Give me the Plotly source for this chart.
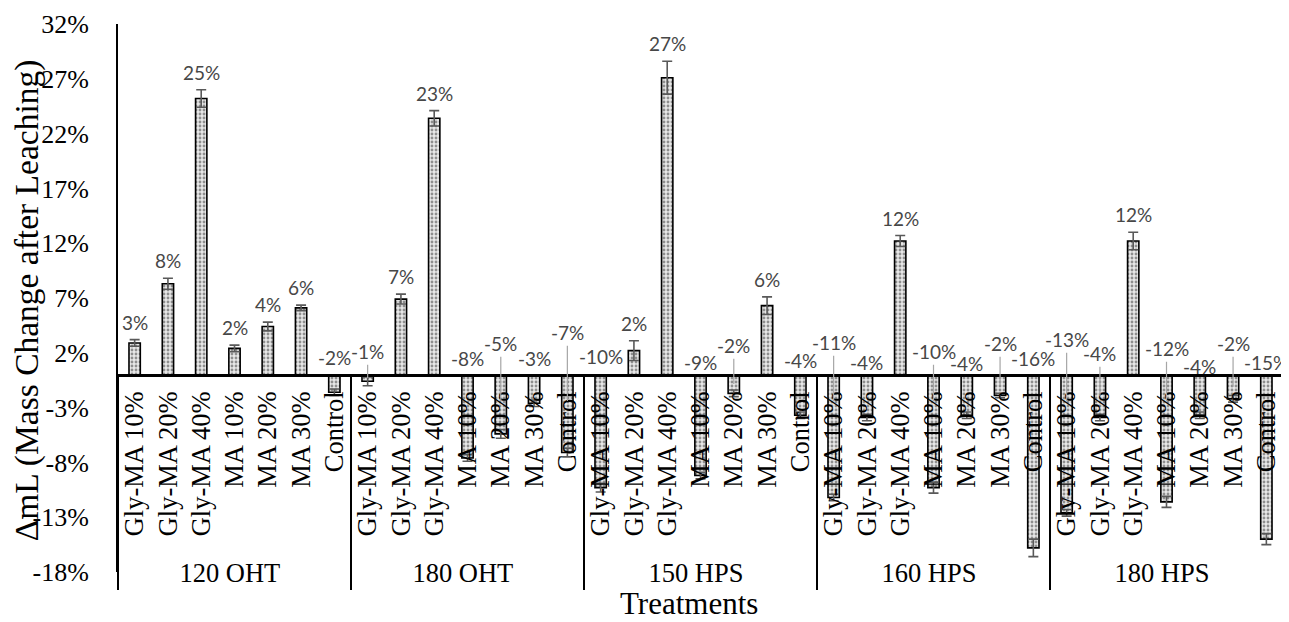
import plotly.graph_objects as go

# ---------------- data ----------------
GROUPS = ["120 OHT", "180 OHT", "150 HPS", "160 HPS", "180 HPS"]
CATEGORIES = ["Gly-MA 10%", "Gly-MA 20%", "Gly-MA 40%", "MA 10%", "MA 20%", "MA 30%", "Control"]

VAL_120_OHT = [2.9, 8.3, 25.2, 2.4, 4.4, 6.1, -1.6]
VAL_180_OHT = [-0.6, 6.9, 23.4, -7.6, -5.4, -2.6, -7.1]
VAL_150_HPS = [-10.3, 2.2, 27.1, -9.2, -1.7, 6.3, -3.7]
VAL_160_HPS = [-11.2, -3.9, 12.2, -10.3, -3.7, -1.9, -15.8]
VAL_180_HPS = [-12.6, -3.9, 12.2, -11.6, -3.7, -2.2, -15.0]

ERR_120_OHT = [0.3, 0.5, 0.8, 0.3, 0.4, 0.25, 0.3]
ERR_180_OHT = [0.4, 0.45, 0.7, 0.3, 0.4, 0.3, 0.4]
ERR_150_HPS = [0.4, 0.9, 1.5, 0.3, 0.3, 0.8, 0.3]
ERR_160_HPS = [0.3, 0.3, 0.5, 0.5, 0.3, 0.2, 0.8]
ERR_180_HPS = [0.3, 0.3, 0.8, 0.5, 0.3, 0.3, 0.5]

Y_TICKS = [-18, -13, -8, -3, 2, 7, 12, 17, 22, 27, 32]

# label heights (in %) for negative-bar data labels, placed above the axis (layout)
NEG_LABEL_Y = {
    6: 1.55,
    7: 2.1, 10: 1.46, 11: 2.83, 12: 1.46, 13: 3.84,
    14: 1.64, 17: 1.1, 18: 2.65, 20: 1.28,
    21: 2.92, 22: 1.1, 24: 2.1, 25: 1.0, 26: 2.83, 27: 1.46,
    28: 3.2, 29: 1.92, 31: 2.37, 32: 0.73, 33: 2.83, 34: 1.1,
}

# ---------------- build ----------------
values = VAL_120_OHT + VAL_180_OHT + VAL_150_HPS + VAL_160_HPS + VAL_180_HPS
errors = ERR_120_OHT + ERR_180_OHT + ERR_150_HPS + ERR_160_HPS + ERR_180_HPS
outer = [g for g in GROUPS for _ in CATEGORIES]
inner = [c for _ in GROUPS for c in CATEGORIES]

SERIF = "Liberation Serif, Times New Roman, serif"
LABEL_FONT = dict(family="Lato, Carlito, Calibri, sans-serif", size=19, color="#474747")

fig = go.Figure()
fig.add_trace(go.Bar(
    x=[outer, inner],
    y=values,
    width=0.34,
    marker=dict(
        color="#e0e0e0",
        line=dict(color="black", width=1.6),
        pattern=dict(shape=".", fgcolor="#333333", bgcolor="#e8e8e8", size=4, solidity=0.4),
    ),
    error_y=dict(type="data", array=errors, visible=True, color="#595959", thickness=1.6, width=5),
    showlegend=False,
))

annotations = []
for i, (v, e) in enumerate(zip(values, errors)):
    txt = "%d%%" % int(round(v))
    if v >= 0:
        annotations.append(dict(
            x=i, y=v + e, xref="x2", yref="y", text=txt, showarrow=False,
            yanchor="bottom", yshift=4, font=LABEL_FONT,
        ))
    else:
        ly = NEG_LABEL_Y.get(i, 1.5)
        tip = max(v / 2.0, -2.4)
        if ly > 1.7:
            annotations.append(dict(
                x=i, y=tip, xref="x2", yref="y", ax=i, ay=ly, axref="x2", ayref="y",
                text=txt, showarrow=True, arrowhead=0, arrowwidth=1.2, arrowcolor="#a6a6a6",
                font=LABEL_FONT, standoff=0, startstandoff=0,
            ))
        else:
            annotations.append(dict(
                x=i, y=ly, xref="x2", yref="y", text=txt, showarrow=False, font=LABEL_FONT,
            ))

annotations.append(dict(
    x=-0.078, y=0.496, xref="paper", yref="paper", text="ΔmL (Mass Change after Leaching)",
    textangle=-90, showarrow=False, font=dict(family=SERIF, size=33.5, color="black"),
    xanchor="center", yanchor="middle",
))
annotations.append(dict(
    x=0.49, y=-0.058, xref="paper", yref="paper", text="Treatments",
    showarrow=False, font=dict(family=SERIF, size=31, color="black"),
    xanchor="center", yanchor="middle",
))

ymin, ymax = Y_TICKS[0], Y_TICKS[-1]
fig.update_layout(
    width=1281, height=614,
    margin=dict(l=110, r=6, t=16, b=50),
    paper_bgcolor="white", plot_bgcolor="white",
    bargap=0.6,
    xaxis=dict(
        type="multicategory",
        anchor="free", position=(0 - ymin) / (ymax - ymin),
        showline=True, linecolor="black", linewidth=3,
        tickangle=-90, ticks="", ticklabelstandoff=4,
        tickfont=dict(family=SERIF, size=26.5, color="black"),
        showdividers=True, dividercolor="black", dividerwidth=1.5,
        showgrid=False, zeroline=False, automargin=False,
    ),
    xaxis2=dict(overlaying="x", range=[-0.5, 34.5], visible=False, anchor="y"),
    yaxis=dict(
        range=[ymin, ymax], tickvals=Y_TICKS, ticktext=["%d%%" % t for t in Y_TICKS],
        showline=True, linecolor="black", linewidth=2, ticks="", ticklabelstandoff=22,
        tickfont=dict(family=SERIF, size=26, color="black"),
        showgrid=False, zeroline=False, automargin=False,
    ),
    annotations=annotations,
)

fig.write_html("out.html")
